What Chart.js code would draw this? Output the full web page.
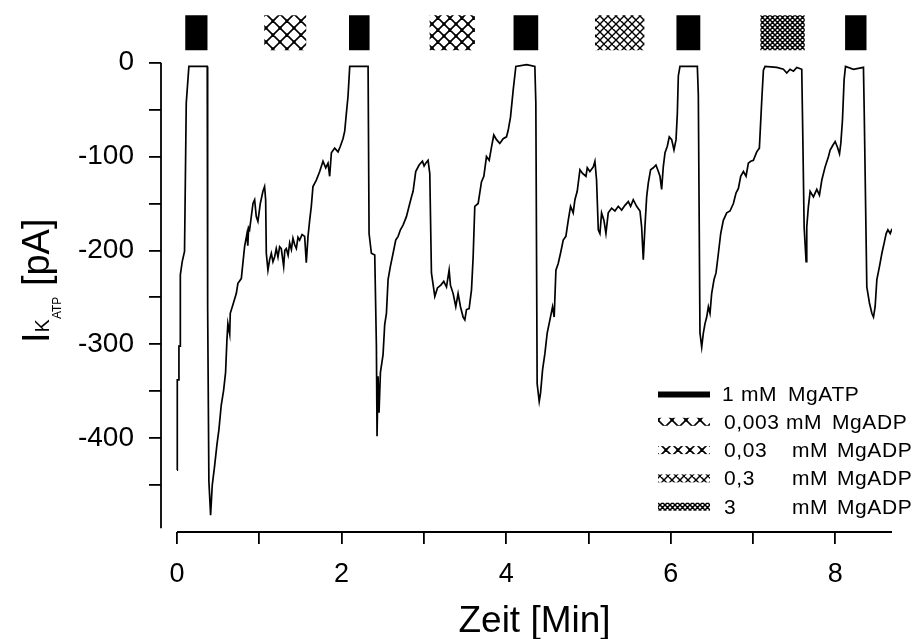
<!DOCTYPE html>
<html>
<head>
<meta charset="utf-8">
<title>KATP Strom</title>
<script src="https://cdn.jsdelivr.net/npm/chart.js@4.4.1/dist/chart.umd.min.js"></script>
<style>
    html, body { margin: 0; padding: 0; background: #fff; }
</style>
</head>
<body>
<canvas id="katpChart" width="918" height="639"></canvas>
<script>
const timeMin = [
    0.000, 0.003, 0.022, 0.023, 0.039, 0.040, 0.063, 0.091, 0.112, 0.144, 0.367, 0.372, 0.387, 0.408, 0.428,
    0.456, 0.485, 0.509, 0.537, 0.566, 0.590, 0.606, 0.618, 0.640, 0.647, 0.679, 0.720, 0.740, 0.781, 0.821,
    0.850, 0.860, 0.870, 0.882, 0.923, 0.943, 0.963, 0.983, 1.012, 1.044, 1.064, 1.077, 1.085, 1.105, 1.125,
    1.146, 1.166, 1.186, 1.206, 1.227, 1.247, 1.267, 1.296, 1.310, 1.328, 1.350, 1.369, 1.390, 1.409, 1.430,
    1.450, 1.470, 1.490, 1.520, 1.551, 1.571, 1.592, 1.612, 1.632, 1.652, 1.693, 1.734, 1.774, 1.807, 1.835,
    1.855, 1.876, 1.916, 1.957, 1.985, 2.017, 2.038, 2.058, 2.078, 2.099, 2.322, 2.334, 2.362, 2.403, 2.423,
    2.431, 2.443, 2.455, 2.472, 2.504, 2.524, 2.545, 2.565, 2.593, 2.626, 2.658, 2.687, 2.715, 2.747, 2.788,
    2.820, 2.849, 2.869, 2.901, 2.942, 2.983, 3.003, 3.023, 3.051, 3.072, 3.092, 3.133, 3.165, 3.206, 3.242,
    3.275, 3.307, 3.323, 3.356, 3.388, 3.416, 3.445, 3.477, 3.498, 3.518, 3.550, 3.579, 3.599, 3.619, 3.660,
    3.700, 3.729, 3.761, 3.794, 3.822, 3.850, 3.883, 3.923, 3.964, 4.004, 4.025, 4.053, 4.086, 4.118, 4.250,
    4.349, 4.361, 4.377, 4.402, 4.418, 4.443, 4.471, 4.499, 4.532, 4.564, 4.584, 4.605, 4.633, 4.661, 4.694,
    4.726, 4.755, 4.783, 4.815, 4.836, 4.864, 4.897, 4.929, 4.970, 4.986, 5.018, 5.059, 5.079, 5.099, 5.120,
    5.140, 5.160, 5.189, 5.213, 5.241, 5.282, 5.322, 5.363, 5.404, 5.444, 5.485, 5.513, 5.545, 5.586, 5.627,
    5.647, 5.667, 5.687, 5.708, 5.728, 5.756, 5.789, 5.821, 5.850, 5.870, 5.890, 5.910, 5.931, 5.959, 5.983,
    6.012, 6.040, 6.065, 6.081, 6.093, 6.113, 6.324, 6.336, 6.356, 6.377, 6.397, 6.417, 6.438, 6.458, 6.478,
    6.498, 6.527, 6.551, 6.580, 6.608, 6.640, 6.681, 6.721, 6.762, 6.794, 6.823, 6.851, 6.884, 6.916, 6.944,
    6.973, 7.005, 7.046, 7.078, 7.107, 7.127, 7.147, 7.289, 7.370, 7.411, 7.451, 7.492, 7.533, 7.593, 7.606,
    7.622, 7.646, 7.654, 7.674, 7.695, 7.735, 7.776, 7.808, 7.837, 7.877, 7.918, 7.938, 7.971, 7.999, 8.027,
    8.052, 8.068, 8.088, 8.108, 8.125, 8.222, 8.343, 8.352, 8.384, 8.416, 8.445, 8.465, 8.485, 8.506, 8.538,
    8.567, 8.595, 8.619, 8.640, 8.668, 8.690
];
const currentPA = [
    -434, -338, -338, -302, -302, -226, -212, -201, -43, -4, -4, -260, -446, -482, -450,
    -430, -407, -391, -365, -349, -330, -296, -278, -289, -267, -258, -246, -235, -230, -196,
    -182, -195, -176, -178, -150, -146, -164, -169, -150, -137, -132, -146, -203, -221, -210,
    -203, -212, -207, -198, -207, -196, -198, -217, -200, -198, -205, -192, -199, -187, -194,
    -198, -186, -189, -183, -185, -213, -185, -168, -153, -132, -125, -116, -105, -112, -107,
    -121, -96, -91, -95, -89, -81, -73, -54, -36, -4, -4, -182, -203, -205, -301,
    -398, -334, -373, -330, -311, -279, -267, -231, -217, -203, -189, -185, -178, -173, -164,
    -153, -143, -137, -116, -109, -105, -110, -107, -104, -118, -224, -249, -240, -237, -233,
    -239, -221, -237, -246, -260, -246, -260, -271, -274, -263, -262, -242, -207, -153, -150,
    -127, -121, -100, -104, -90, -77, -82, -86, -81, -79, -72, -58, -29, -4, -2,
    -4, -43, -342, -361, -352, -327, -310, -288, -274, -260, -271, -221, -214, -203, -189,
    -185, -168, -153, -160, -146, -137, -114, -118, -121, -112, -116, -111, -105, -125, -178,
    -182, -160, -168, -182, -160, -155, -158, -153, -157, -152, -148, -153, -146, -153, -158,
    -175, -210, -175, -143, -128, -114, -112, -109, -116, -121, -135, -111, -96, -89, -79,
    -82, -93, -82, -54, -14, -4, -4, -34, -288, -303, -288, -278, -271, -260, -267,
    -246, -231, -224, -203, -182, -168, -160, -158, -150, -139, -134, -121, -116, -121, -107,
    -105, -104, -95, -91, -40, -8, -4, -5, -7, -11, -7, -9, -5, -7, -79,
    -175, -212, -175, -153, -137, -143, -135, -141, -125, -111, -100, -93, -88, -84, -90,
    -97, -86, -61, -18, -4, -7, -5, -50, -239, -256, -267, -271, -260, -231, -217,
    -203, -192, -182, -178, -182, -177
];

// Applikationen (Balken oben), Start/Ende in Minuten
const atpStart = [0.10, 2.09, 4.09, 6.07, 8.12];
const atpEnd   = [0.37, 2.34, 4.39, 6.36, 8.38];
const adpStart = [1.06, 3.07, 5.08, 7.09];
const adpEnd   = [1.57, 3.62, 5.68, 7.63];

const yTicks = [0, -50, -100, -150, -200, -250, -300, -350, -400, -450];
const xTicks = [0, 1, 2, 3, 4, 5, 6, 7, 8];

const legendDose  = ['1', '0,003', '0,03', '0,3', '3'];
const legendAgent = ['MgATP', 'MgADP', 'MgADP', 'MgADP', 'MgADP'];

const FONT = '"Liberation Sans", Arial, sans-serif';
const BAND = 31.8;   // Hoehe der Applikationsbalken ueber 0 pA

// Schraffur-Muster fuer die ADP-Balken
function hatch(size, lw, dot) {
    const c = document.createElement('canvas');
    c.width = size; c.height = size;
    const g = c.getContext('2d');
    g.fillStyle = '#fff';
    g.fillRect(0, 0, size, size);
    g.strokeStyle = '#000';
    g.lineWidth = lw;
    g.beginPath();
    [-size, 0, size].forEach(k => {
        g.moveTo(k, 0); g.lineTo(k + size, size);
        g.moveTo(k + size, 0); g.lineTo(k, size);
    });
    g.stroke();
    g.fillStyle = '#000';
    g.fillRect(size / 2 - dot / 2, size / 2 - dot / 2, dot, dot);
    g.fillRect(-dot / 2, -dot / 2, dot, dot);
    g.fillRect(size - dot / 2, -dot / 2, dot, dot);
    g.fillRect(-dot / 2, size - dot / 2, dot, dot);
    g.fillRect(size - dot / 2, size - dot / 2, dot, dot);
    return g.createPattern(c, 'repeat');
}

const patterns = [
    '#000',
    hatch(14, 1.6, 3),
    hatch(12, 1.6, 3),
    hatch(8, 1.4, 2),
    hatch(5, 1.5, 2)
];

function bandData(starts, ends) {
    const pts = [];
    starts.forEach((s, i) => {
        pts.push({ x: s, y: BAND }, { x: ends[i], y: BAND }, { x: ends[i], y: null });
    });
    return pts;
}

const appDatasets = [
    { data: bandData(atpStart, atpEnd), color: patterns[0] },
    { data: bandData([adpStart[0]], [adpEnd[0]]), color: patterns[1] },
    { data: bandData([adpStart[1]], [adpEnd[1]]), color: patterns[2] },
    { data: bandData([adpStart[2]], [adpEnd[2]]), color: patterns[3] },
    { data: bandData([adpStart[3]], [adpEnd[3]]), color: patterns[4] }
].map(d => ({
    data: d.data,
    borderColor: d.color,
    borderWidth: 35,
    borderCapStyle: 'butt',
    pointRadius: 0,
    spanGaps: false
}));

// Achsenlinien, Titel und Legende
const extras = {
    id: 'extras',
    afterDraw(chart) {
        const c = chart.ctx;
        const xs = chart.scales.x, ys = chart.scales.y;
        const area = chart.chartArea;
        c.save();
        c.strokeStyle = '#000';
        c.lineWidth = 1.8;
        c.beginPath();
        c.moveTo(area.left, ys.getPixelForValue(0));
        c.lineTo(area.left, ys.getPixelForValue(-496));
        c.moveTo(xs.getPixelForValue(0), area.bottom);
        c.lineTo(area.right, area.bottom);
        c.stroke();

        // x-Titel
        c.fillStyle = '#000';
        c.font = '37px ' + FONT;
        c.textAlign = 'center';
        c.textBaseline = 'alphabetic';
        c.fillText('Zeit [Min]', (xs.getPixelForValue(0) + area.right) / 2, 632);

        // y-Titel mit Index
        c.save();
        c.translate(49, 343);
        c.rotate(-Math.PI / 2);
        c.textAlign = 'left';
        let pos = 0;
        [['I', 38, 0], ['K', 20, 0], ['ATP', 12, 12], [' [pA]', 38, 0]].forEach(([t, size, dy]) => {
            c.font = size + 'px ' + FONT;
            c.fillText(t, pos, dy);
            pos += c.measureText(t).width;
        });
        c.restore();

        // Legende
        const cols = [[722, 741, 788], [724, 786, 832], [724, 792, 837], [724, 792, 837], [724, 792, 837]];
        c.font = '21px ' + FONT;
        c.letterSpacing = '0.6px';
        c.textAlign = 'left';
        legendDose.forEach((d, i) => {
            const base = 400.5 + i * 28.3;
            if (i === 0) {
                c.fillStyle = '#000';
                c.fillRect(658, base - 9, 52, 6);
            } else {
                c.fillStyle = patterns[i];
                c.fillRect(658, base - 11, 52, 8);
            }
            c.fillStyle = '#000';
            c.fillText(d, cols[i][0], base);
            c.fillText('mM', cols[i][1], base);
            c.fillText(legendAgent[i], cols[i][2], base);
        });
        c.restore();
    }
};

const ctx = document.getElementById('katpChart').getContext('2d');
const katpChart = new Chart(ctx, {
    type: 'line',
    data: {
        datasets: [{
            data: timeMin.map((t, i) => ({ x: t, y: currentPA[i] })),
            borderColor: '#000',
            borderWidth: 1.7,
            pointRadius: 0,
            tension: 0
        }].concat(appDatasets)
    },
    options: {
        responsive: false,
        animation: false,
        layout: { padding: { left: 0, top: 0, right: 26, bottom: 0 } },
        plugins: {
            legend: { display: false },
            tooltip: { enabled: false }
        },
        scales: {
            x: {
                type: 'linear',
                min: -0.195,
                max: 8.69,
                afterBuildTicks: s => { s.ticks = xTicks.map(v => ({ value: v })); },
                afterFit: s => { s.height = 107; s.paddingLeft = 0; s.paddingRight = 0; },
                ticks: {
                    autoSkip: false,
                    maxRotation: 0,
                    padding: 14,
                    color: '#000',
                    font: { family: FONT, size: 27 },
                    callback: v => (v % 2 === 0 ? String(v) : '')
                },
                grid: { drawOnChartArea: false, tickLength: 12, color: '#000', lineWidth: 1.8 },
                border: { display: false }
            },
            y: {
                type: 'linear',
                min: -500,
                max: 66.8,
                afterBuildTicks: s => { s.ticks = yTicks.map(v => ({ value: v })); },
                afterFit: s => { s.width = 161; s.paddingTop = 0; s.paddingBottom = 0; },
                ticks: {
                    padding: 15,
                    color: '#000',
                    font: { family: FONT, size: 28 },
                    callback: v => (v % 100 === 0 ? String(v) : '')
                },
                grid: { drawOnChartArea: false, tickLength: 12, color: '#000', lineWidth: 1.8 },
                border: { display: false }
            }
        }
    },
    plugins: [extras]
});
</script>
</body>
</html>
